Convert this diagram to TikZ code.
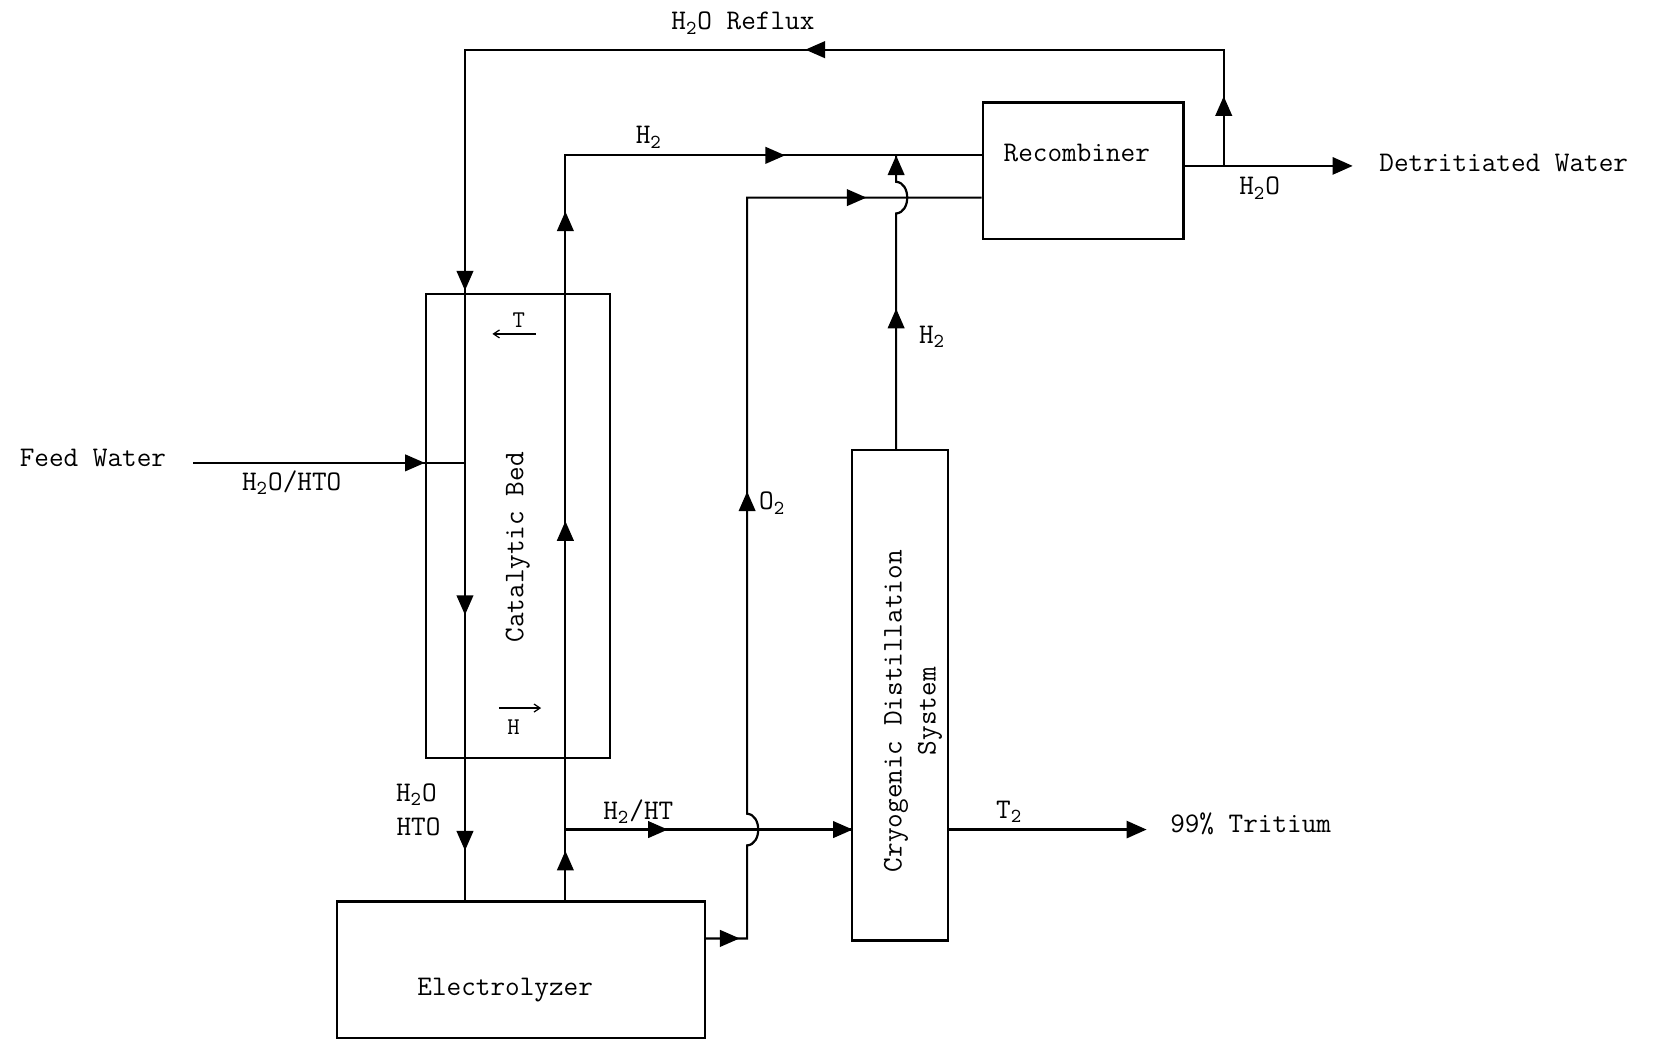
\documentclass[tikz,border=0pt]{standalone}
\usepackage{fontspec}
\usetikzlibrary{arrows.meta}
\newcommand{\flowtip}[2]{\fill[shift={(#1)},rotate=#2] (5.2pt,0) -- (-4.6pt,4.3pt) -- (-4.6pt,-4.3pt) -- cycle;}
\begin{document}
\begin{tikzpicture}[x=0.5284pt,y=-0.5284pt,
  box/.style={draw, line width=1.1pt, inner sep=0pt},
  lbl/.style={inner sep=0pt, font=\ttfamily\fontsize{14.2}{17}\selectfont},
  small/.style={inner sep=0pt, font=\ttfamily\fontsize{12}{13}\selectfont},
  flow/.style={line width=1.1pt},
  endarr/.style={-{Triangle[length=10pt,width=8.6pt]}},
  thinarr/.style={line width=0.6pt,-{Straight Barb[length=3pt,width=4pt]}}
]
\useasboundingbox (0,0) rectangle (1568,984);

% boxes
\node[box, minimum width={174*0.5284pt}, minimum height={439*0.5284pt}] (bed) at (490,497.5) {};
\node[box, minimum width={348*0.5284pt}, minimum height={129*0.5284pt}] (elec) at (493,917.5) {};
\node[box, minimum width={91*0.5284pt}, minimum height={464*0.5284pt}] (cryo) at (851.5,658) {};
\node[box, minimum width={190*0.5284pt}, minimum height={129*0.5284pt}] (recomb) at (1025,161.5) {};

% coordinates
\coordinate (split) at (1158,157);
\coordinate (refluxTR) at (1158,47);
\coordinate (refluxTL) at (440,47);
\coordinate (h2corner) at (535,147);
\coordinate (o2corner) at (707,187);
\coordinate (elecout) at (707,888);
\coordinate (feedstart) at (183,438);
\coordinate (feedjoin) at (440,438);
\coordinate (h2join) at (848,147);
\coordinate (hht) at (535,785);
\coordinate (dwend) at (1280,157);
\coordinate (t2end) at (1085,785);

% connectors
\draw[flow] (split) -- (refluxTR) -- (refluxTL) -- (440,0 |- elec.north);
\draw[flow] (split -| recomb.east) -- (split);
\draw[flow, endarr] (split) -- (dwend);
\draw[flow] (535,0 |- elec.north) -- (h2corner) -- (recomb.west |- h2corner);
\draw[flow] (elec.east |- elecout) -- (elecout) -- (707,800) .. controls (721,799) and (721,771) .. (707,770) -- (o2corner) -- (recomb.west |- o2corner);
\draw[flow] (848,0 |- cryo.north) -- (848,202) .. controls (862,201) and (862,173) .. (848,172) -- (h2join);
\draw[flow] (hht) -- (cryo.west |- hht);
\draw[flow, endarr] (cryo.east |- hht) -- (t2end);
\draw[flow] (feedstart) -- (feedjoin);

% mid-line arrowheads
\flowtip{1158,101}{90}
\flowtip{772,47}{180}
\flowtip{440,265}{270}
\flowtip{440,572}{270}
\flowtip{440,795}{270}
\flowtip{392,438}{0}
\flowtip{535,210}{90}
\flowtip{535,503}{90}
\flowtip{535,815}{90}
\flowtip{733,147}{0}
\flowtip{810,187}{0}
\flowtip{707,475}{90}
\flowtip{848,302}{90}
\flowtip{848,157}{90}
\flowtip{622,785}{0}
\flowtip{797,785}{0}
\flowtip{690,888}{0}

% small T / H arrows in the bed
\coordinate (tA) at (507,316);
\coordinate (tB) at (466,316);
\coordinate (hA) at (472,670);
\coordinate (hB) at (512,670);
\draw[thinarr] (tA) -- (tB);
\draw[thinarr] (hA) -- (hB);
\node[small] (tl) at (491,303) {T};
\node[small] (hl) at (486,688) {H};

% labels
\node[lbl] (l1) at (703,22) {H\textsubscript{2}O Reflux};
\node[lbl] (l2) at (614,130) {H\textsubscript{2}};
\node[lbl] (l3) at (1019,145) {Recombiner};
\node[lbl] (l4) at (1192,178) {H\textsubscript{2}O};
\node[lbl, anchor=west] (l5) at (1305,154) {Detritiated Water};
\node[lbl] (l6) at (882,319) {H\textsubscript{2}};
\node[lbl] (l7) at (88,433) {Feed Water};
\node[lbl] (l8) at (276,457) {H\textsubscript{2}O/HTO};
\node[lbl, rotate=90] (l9) at (490,518) {Catalytic Bed};
\node[lbl, anchor=west] (l10) at (718,476) {O\textsubscript{2}};
\node[lbl, rotate=90, align=center] (l11) at (864,673) {Cryogenic Distillation\\System};
\node[lbl] (l12) at (394,752) {H\textsubscript{2}O};
\node[lbl] (l13) at (396,782) {HTO};
\node[lbl] (l14) at (604,768) {H\textsubscript{2}/HT};
\node[lbl] (l15) at (955,768) {T\textsubscript{2}};
\node[lbl, anchor=west] (l16) at (1107,780) {99\% Tritium};
\node[lbl] (l17) at (478,937) {Electrolyzer};
\end{tikzpicture}
\end{document}
